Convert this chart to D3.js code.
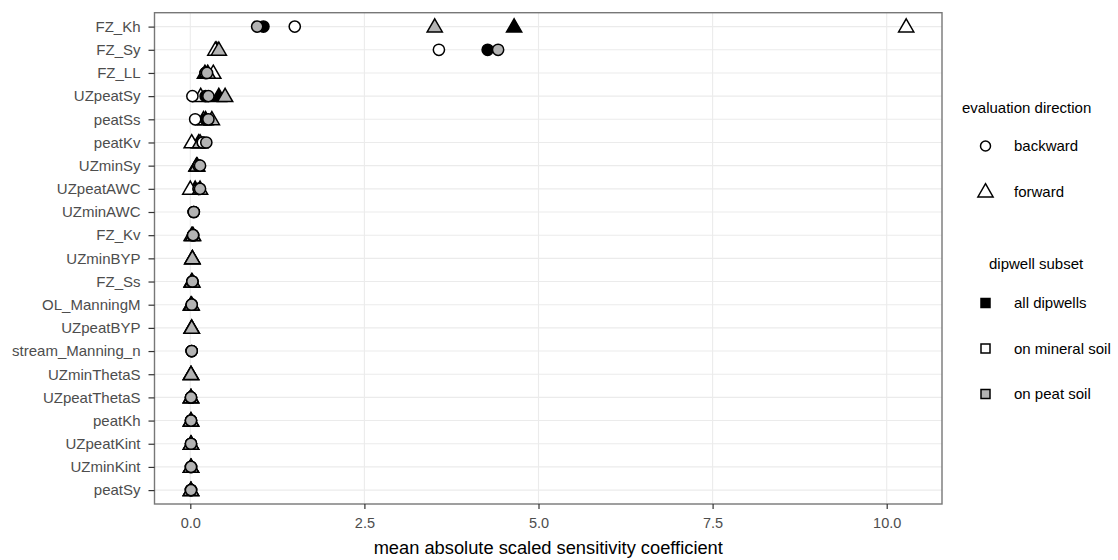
<!DOCTYPE html>
<html><head><meta charset="utf-8">
<script src="https://cdn.jsdelivr.net/npm/d3@7"></script>
<style>body{margin:0;background:#fff;} text{font-family:"Liberation Sans",Arial,sans-serif;}</style>
</head><body>
<svg id="chart" width="1118" height="560"></svg>
<script>
const params = ["FZ_Kh","FZ_Sy","FZ_LL","UZpeatSy","peatSs","peatKv","UZminSy","UZpeatAWC","UZminAWC","FZ_Kv","UZminBYP","FZ_Ss","OL_ManningM","UZpeatBYP","stream_Manning_n","UZminThetaS","UZpeatThetaS","peatKh","UZpeatKint","UZminKint","peatSy"];
const xTicks = [0, 2.5, 5, 7.5, 10];
const subsets = ["all dipwells","on mineral soil","on peat soil"];
const subsetFill = ["#000000","#ffffff","#b3b3b3"];
const directions = ["backward","forward"];
// backward (circle) values per subset
const backAll     = [1.05,4.27,0.22,0.22,0.22,0.18,0.12,0.12,0.05,0.04,null,0.03,0.02,null,0.02,null,0.01,0.01,0.01,0.01,0.01];
const backMineral = [1.50,3.57,0.22,0.03,0.07,0.18,0.12,0.12,0.05,0.04,null,0.03,0.02,null,0.02,null,0.01,0.01,0.01,0.01,0.01];
const backPeat    = [0.96,4.42,0.24,0.26,0.26,0.23,0.14,0.14,0.05,0.04,null,0.03,0.02,null,0.02,null,0.01,0.01,0.01,0.01,0.01];
// forward (triangle) values per subset
const fwdAll      = [4.65,0.38,0.21,0.41,0.22,0.12,0.09,0.07,null,0.03,0.03,0.02,0.01,0.02,null,0.01,0.01,0.01,0.01,0.01,0.01];
const fwdMineral  = [10.28,0.36,0.33,0.15,0.19,0.02,0.09,0.00,null,0.02,0.03,0.02,0.01,0.02,null,0.01,0.01,0.01,0.01,0.01,0.01];
const fwdPeat     = [3.51,0.41,0.25,0.50,0.31,0.14,0.10,0.14,null,0.04,0.03,0.03,0.02,0.02,null,0.01,0.01,0.01,0.01,0.01,0.01];

const series = [
  {dir:"forward", sub:0, vals:fwdAll},
  {dir:"forward", sub:1, vals:fwdMineral},
  {dir:"forward", sub:2, vals:fwdPeat},
  {dir:"backward", sub:0, vals:backAll},
  {dir:"backward", sub:1, vals:backMineral},
  {dir:"backward", sub:2, vals:backPeat}
];

const svg = d3.select("#chart");
const L = 154.5, R = 942, T = 12.7, B = 504;
const allVals = series.flatMap(s => s.vals.filter(v => v != null));
const mn = d3.min(allVals), mx = d3.max(allVals), ex = (mx - mn) * 0.05;
const x = d3.scaleLinear().domain([mn - ex, mx + ex]).range([L, R]);
const y = d3.scalePoint().domain(params).range([T, B]).padding(0.6);

// grid
const g = svg.append("g");
g.selectAll(".gx").data(xTicks).enter().append("line")
  .attr("x1", d => x(d)).attr("x2", d => x(d)).attr("y1", T).attr("y2", B)
  .attr("stroke", "#ebebeb").attr("stroke-width", 1.1);
g.selectAll(".gy").data(params).enter().append("line")
  .attr("x1", L).attr("x2", R).attr("y1", d => y(d)).attr("y2", d => y(d))
  .attr("stroke", "#ebebeb").attr("stroke-width", 1.1);

// points
const circleR = 5.6;
const triPath = d3.symbol().type(d3.symbolTriangle).size(100)();
series.forEach(s => {
  const pts = params.map((p, i) => ({p, v: s.vals[i]})).filter(d => d.v != null);
  if (s.dir === "backward") {
    g.selectAll(null).data(pts).enter().append("circle")
      .attr("cx", d => x(d.v)).attr("cy", d => y(d.p)).attr("r", circleR)
      .attr("fill", subsetFill[s.sub]).attr("stroke", "#000").attr("stroke-width", 1.5);
  } else {
    g.selectAll(null).data(pts).enter().append("path")
      .attr("d", triPath)
      .attr("transform", d => `translate(${x(d.v)},${y(d.p) + 1})`)
      .attr("fill", subsetFill[s.sub]).attr("stroke", "#000").attr("stroke-width", 1.5)
      .attr("stroke-linejoin", "miter");
  }
});

// panel border
svg.append("rect").attr("x", L).attr("y", T).attr("width", R - L).attr("height", B - T)
  .attr("fill", "none").attr("stroke", "#777").attr("stroke-width", 1.4);

// axes
const xAxis = svg.append("g").attr("transform", `translate(0,${B})`)
  .call(d3.axisBottom(x).tickValues(xTicks).tickFormat(d3.format(".1f")).tickSize(5).tickPadding(9));
const yAxis = svg.append("g").attr("transform", `translate(${L},0)`)
  .call(d3.axisLeft(y).tickSize(6).tickPadding(8));
[xAxis, yAxis].forEach(a => {
  a.select(".domain").remove();
  a.selectAll(".tick line").attr("stroke", "#333").attr("stroke-width", 1.2);
  a.selectAll(".tick text").attr("fill", "#4d4d4d").style("font-size", "14.5px")
    .style("font-family", "'Liberation Sans', Arial, sans-serif");
});
yAxis.selectAll(".tick text").style("font-size", "15px");

svg.append("text").attr("x", (L + R) / 2).attr("y", 554).attr("text-anchor", "middle")
  .style("font-size", "18.3px").attr("fill", "#000")
  .text("mean absolute scaled sensitivity coefficient");

// legend
const lg = svg.append("g");
lg.append("text").attr("x", 962).attr("y", 112.5).style("font-size", "15px").text("evaluation direction");
directions.forEach((d, i) => {
  const cy = 146 + i * 45.5;
  if (d === "backward") {
    lg.append("circle").attr("cx", 985.5).attr("cy", cy).attr("r", 5).attr("fill", "#fff")
      .attr("stroke", "#000").attr("stroke-width", 1.5);
  } else {
    lg.append("path").attr("d", triPath).attr("transform", `translate(985.5,${cy + 1})`)
      .attr("fill", "#fff").attr("stroke", "#000").attr("stroke-width", 1.5);
  }
  lg.append("text").attr("x", 1014).attr("y", cy + 5).style("font-size", "15px").text(d);
});
lg.append("text").attr("x", 989).attr("y", 268.5).style("font-size", "15px").text("dipwell subset");
subsets.forEach((s, i) => {
  const cy = 303 + i * 45.5;
  lg.append("rect").attr("x", 981).attr("y", cy - 4.5).attr("width", 9).attr("height", 9)
    .attr("fill", subsetFill[i]).attr("stroke", "#000").attr("stroke-width", 1.5);
  lg.append("text").attr("x", 1014).attr("y", cy + 5).style("font-size", "15px").text(s);
});
</script>
</body></html>
